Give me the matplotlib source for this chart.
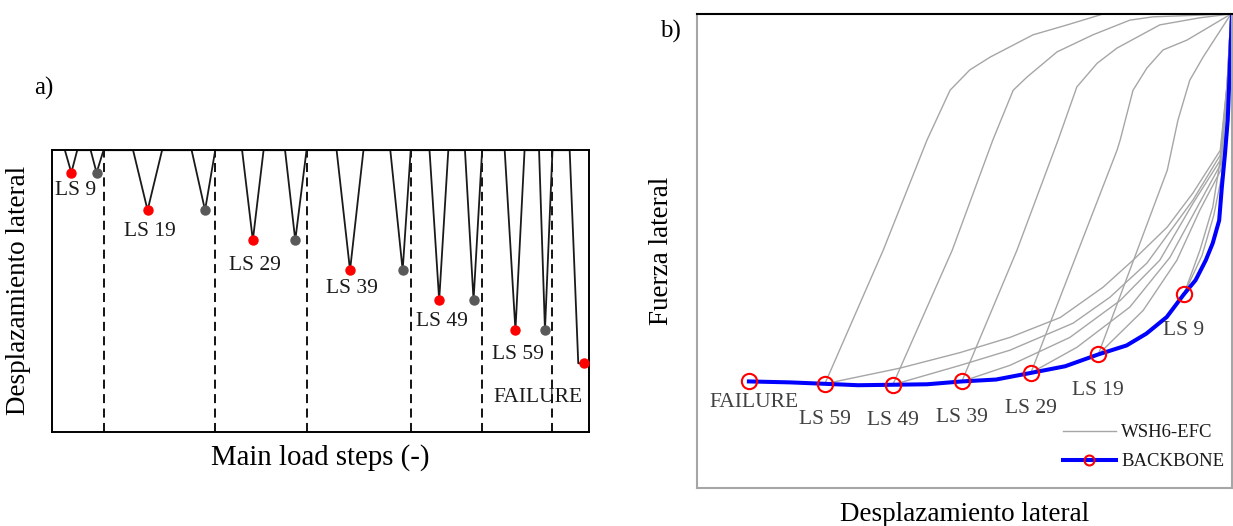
import matplotlib
matplotlib.use("Agg")
import matplotlib.pyplot as plt

plt.rcParams['font.family'] = ['Liberation Serif', 'DejaVu Serif']

# a) main load steps: each cycle starts at zero, reaches its peak displacement and returns
v_start = [2.4, 7.2, 15.1, 26.0, 35.4, 43.4, 53.0, 63.0, 70.3, 76.9, 84.3, 90.7, 96.4]
v_peak = [3.6, 8.3, 17.8, 28.5, 37.4, 45.3, 55.5, 65.3, 72.1, 78.5, 86.3, 91.8, 98.0]
v_end = [4.7, 9.6, 20.5, 30.4, 39.4, 47.4, 58.0, 66.8, 73.8, 80.1, 88.0, 93.2, 99.0]
v_disp = [0.75, 0.75, 2.0, 2.0, 3.0, 3.0, 4.0, 4.0, 5.0, 5.0, 6.0, 6.0, 7.1]
labels_a = ['LS 9', 'LS 19', 'LS 29', 'LS 39', 'LS 49', 'LS 59', 'FAILURE']

# b) backbone curve and the cycles of WSH6-EFC
backbone_x = [9.7, 17.4, 23.9, 30.1, 36.6, 43.0, 49.5, 55.9, 62.4, 68.8, 75.0,
              80.3, 84.0, 87.8, 91.0, 93.2, 95.1, 96.4, 97.6, 98.1, 98.7, 99.2, 99.6, 100.0]
backbone_y = [22.4, 22.2, 21.9, 21.6, 21.7, 21.8, 22.4, 22.8, 24.2, 25.6, 28.1,
              30.0, 32.5, 36.0, 40.8, 43.8, 48.0, 51.6, 56.4, 63.4, 70.6, 77.6, 88.8, 100.0]
backbone_marks = [0, 2, 4, 6, 8, 10, 14]
labels_b = ['FAILURE', 'LS 59', 'LS 49', 'LS 39', 'LS 29', 'LS 19', 'LS 9']

# reloading branches (steep) and unloading branches (flat), one pair per LS
reload_x = [
    [23.9, 34.8, 43.0, 47.3, 51.0, 54.8, 62.8, 69.2, 75.9, 99.8],
    [36.6, 47.7, 55.3, 59.1, 61.7, 67.3, 74.0, 80.9, 85.2, 99.8],
    [49.5, 59.8, 67.5, 71.0, 74.8, 78.5, 86.5, 94.0, 99.8],
    [62.4, 78.5, 79.1, 81.5, 84.1, 87.1, 91.6, 99.8],
    [75.0, 87.9, 89.9, 92.1, 94.6, 99.8],
    [91.0, 94.0, 96.4, 98.1, 99.1, 99.8],
]
reload_y = [
    [21.9, 50.1, 73.4, 83.9, 88.2, 90.9, 95.6, 97.7, 100.0, 100.0],
    [21.7, 50.1, 73.4, 83.9, 86.7, 92.0, 95.6, 98.7, 99.4, 100.0],
    [22.4, 50.1, 73.4, 84.6, 89.6, 92.8, 97.7, 99.2, 100.0],
    [24.2, 71.2, 73.4, 83.9, 88.6, 92.4, 94.5, 100.0],
    [28.1, 67.0, 77.6, 86.0, 90.9, 100.0],
    [40.8, 50.1, 59.2, 71.2, 85.4, 100.0],
]
unload_x = [
    [23.9, 37.9, 49.2, 58.5, 67.9, 75.9, 81.5, 87.9, 92.7, 97.8, 99.1, 99.8],
    [36.6, 49.2, 58.5, 70.3, 77.2, 84.1, 92.7, 97.8, 99.1, 99.8],
    [49.5, 58.5, 69.7, 79.1, 86.5, 92.7, 97.8, 99.1, 99.8],
    [62.4, 71.0, 80.9, 88.4, 93.5, 97.8, 99.1, 99.8],
    [75.0, 83.4, 89.7, 94.0, 97.9, 99.1, 99.8],
    [91.0, 94.4, 96.6, 98.1, 99.3, 99.8],
]
unload_y = [
    [21.9, 25.2, 28.5, 31.7, 35.9, 42.3, 48.0, 55.0, 62.2, 71.2, 85.4, 100.0],
    [21.7, 25.8, 29.0, 34.7, 40.2, 47.4, 60.7, 70.2, 85.0, 100.0],
    [22.4, 25.8, 31.7, 39.5, 48.0, 60.0, 69.1, 84.4, 100.0],
    [24.2, 29.6, 38.1, 48.6, 59.2, 68.1, 83.9, 100.0],
    [28.1, 37.4, 48.0, 58.6, 67.0, 83.5, 100.0],
    [40.8, 49.0, 57.5, 66.0, 82.9, 100.0],
]

W, H = 1233, 526
fig = plt.figure(figsize=(W / 100, H / 100), dpi=100)


def fx(px):
    return px / W


def fy(py):
    return 1 - py / H


# ---------------- a) ----------------
ax1 = fig.add_axes([fx(52), fy(432.3), 537 / W, 282.1 / H])
xs, ys = [], []
n = len(v_start)
for i in range(n):
    xs += [v_start[i], v_peak[i], v_end[i]]
    ys += [0, v_disp[i], v_disp[i] if i == n - 1 else 0]
ax1.plot(xs, ys, color='#1a1a1a', lw=1.3, zorder=2)

for xd in v_end[1:-1:2]:
    ax1.axvline(xd, color='black', lw=1.3, ls=(0, (5, 3)), zorder=1)

red_x = v_peak[0:-1:2] + [v_end[-1]]
red_y = v_disp[0:-1:2] + [v_disp[-1]]
gray_x = v_peak[1::2]
gray_y = v_disp[1::2]
ax1.plot(red_x, red_y, 'o', color='#ff0000', ms=6.5, zorder=3, clip_on=False)
ax1.plot(gray_x, gray_y, 'o', color='#595959', ms=6.5, zorder=3, clip_on=False)

offs_a = [(3.2, -15.8), (1.7, -18.6), (1.6, -21.2), (1.6, -16.7), (1.9, -18.4), (1.6, -20.5), (-33, -28)]
for name, x, y, (dx, dy) in zip(labels_a, red_x, red_y, offs_a):
    ax1.annotate(name, (x, y), xytext=(dx, dy), textcoords='offset points',
                 ha='center', va='baseline', fontsize=15.5, color='#1a1a1a')

ax1.set_xlim(0, 100)
ax1.set_ylim(9.4, 0)
ax1.set_xticks([])
ax1.set_yticks([])
for sp in ax1.spines.values():
    sp.set_linewidth(1.4)
    sp.set_color('black')

fig.text(fx(44), fy(88), 'a)', fontsize=18, ha='center', va='center')
fig.text(fx(320.5), fy(465), 'Main load steps (-)', fontsize=20.8, ha='center', va='baseline')
fig.text(fx(19), fy(290), 'Desplazamiento lateral', fontsize=19.5, rotation=90,
         ha='center', va='center')

# ---------------- b) ----------------
ax2 = fig.add_axes([fx(697), fy(487.5), 535 / W, 473.5 / H])
for i in range(len(reload_x)):
    ax2.plot(reload_x[i], reload_y[i], color='#a6a6a6', lw=1.0, zorder=1,
             label='WSH6-EFC' if i == 0 else None)
    ax2.plot(unload_x[i], unload_y[i], color='#a6a6a6', lw=1.0, zorder=1)

ax2.plot(backbone_x, backbone_y, color='#0000ff', lw=2.9, zorder=2,
         solid_joinstyle='round', marker='o', markevery=backbone_marks, ms=11,
         mfc='none', mec='#ff0000', mew=1.5, label='BACKBONE')

mark_x = [backbone_x[i] for i in backbone_marks]
mark_y = [backbone_y[i] for i in backbone_marks]
offs_b = [(4, -18.2)] + [(0, -29.2)] * 6
for name, x, y, (dx, dy) in zip(labels_b, mark_x, mark_y, offs_b):
    ax2.annotate(name, (x, y), xytext=(dx, dy), textcoords='offset points',
                 ha='center', va='baseline', fontsize=15.5, color='#404040')

ax2.set_xlim(0, 100)
ax2.set_ylim(0, 100)
ax2.set_xticks([])
ax2.set_yticks([])
for name, sp in ax2.spines.items():
    sp.set_color('#a6a6a6')
    sp.set_linewidth(1.5)
ax2.spines['top'].set_color('black')

ax2.legend(loc='upper left', bbox_to_anchor=(fx(1063), fy(424)), bbox_transform=fig.transFigure,
           frameon=False, fontsize=13.5, handlelength=2.8, handletextpad=0.3,
           labelspacing=0.65, borderpad=0, borderaxespad=0, markerscale=0.65,
           labelcolor='#1a1a1a')

fig.text(fx(670), fy(31), 'b)', fontsize=18, ha='center', va='center')
fig.text(fx(965), fy(521), 'Desplazamiento lateral', fontsize=19.5, ha='center', va='baseline')
fig.text(fx(662), fy(251), 'Fuerza lateral', fontsize=19.5, rotation=90, ha='center', va='center')

fig.savefig('out.png', dpi=100)
